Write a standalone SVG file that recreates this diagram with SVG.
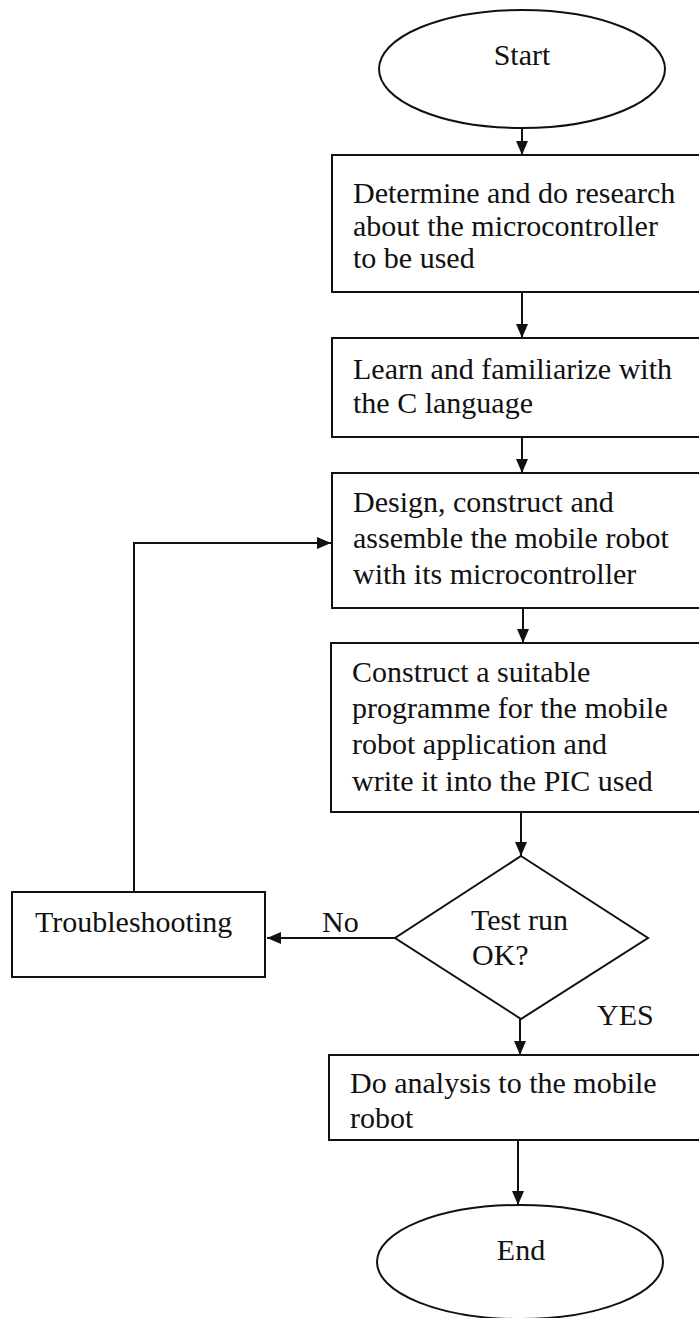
<svg xmlns="http://www.w3.org/2000/svg" width="699" height="1318" viewBox="0 0 699 1318">
<style>
.s{fill:#fff;stroke:#111;stroke-width:2}
.t{font-family:"Liberation Serif","Times New Roman",serif;font-size:30px;fill:#111}
.c{fill:none;stroke:#111;stroke-width:2}
</style>
<defs>
<marker id="ah" markerUnits="userSpaceOnUse" markerWidth="14" markerHeight="12" refX="14" refY="6" orient="auto">
<path d="M0,0 L14,6 L0,12 z" fill="#111"/>
</marker>
</defs>
<rect width="699" height="1318" fill="#fff"/>
<g id="start">
<ellipse class="s" cx="522" cy="69" rx="143" ry="59"/>
<text class="t" x="522" y="65" text-anchor="middle">Start</text>
</g>
<g id="box1">
<rect class="s" x="332" y="155" width="380" height="137"/>
<text class="t" x="353" y="203">Determine and do research</text>
<text class="t" x="353" y="236">about the microcontroller</text>
<text class="t" x="353" y="268">to be used</text>
</g>
<g id="box2">
<rect class="s" x="332" y="338" width="380" height="99"/>
<text class="t" x="353" y="379">Learn and familiarize with</text>
<text class="t" x="353" y="413">the C language</text>
</g>
<g id="box3">
<rect class="s" x="332" y="473" width="380" height="135"/>
<text class="t" x="353" y="512">Design, construct and</text>
<text class="t" x="353" y="548">assemble the mobile robot</text>
<text class="t" x="353" y="584">with its microcontroller</text>
</g>
<g id="box4">
<rect class="s" x="331" y="643" width="381" height="169"/>
<text class="t" x="352" y="682">Construct a suitable</text>
<text class="t" x="352" y="718">programme for the mobile</text>
<text class="t" x="352" y="754">robot application and</text>
<text class="t" x="352" y="791">write it into the PIC used</text>
</g>
<g id="decision">
<polygon class="s" points="521,856 648,938 521,1019 395,938"/>
<text class="t" x="471" y="930">Test run</text>
<text class="t" x="472" y="965">OK?</text>
</g>
<g id="troubleshooting">
<rect class="s" x="12" y="892" width="253" height="85"/>
<text class="t" x="35" y="932">Troubleshooting</text>
</g>
<g id="box5">
<rect class="s" x="329" y="1055" width="383" height="85"/>
<text class="t" x="350" y="1093">Do analysis to the mobile</text>
<text class="t" x="350" y="1128">robot</text>
</g>
<g id="end">
<ellipse class="s" cx="520" cy="1262" rx="143" ry="57"/>
<text class="t" x="521" y="1260" text-anchor="middle">End</text>
</g>
<g id="connectors">
<line class="c" x1="522" y1="128" x2="522" y2="155" marker-end="url(#ah)"/>
<line class="c" x1="522" y1="292" x2="522" y2="338" marker-end="url(#ah)"/>
<line class="c" x1="522" y1="437" x2="522" y2="473" marker-end="url(#ah)"/>
<line class="c" x1="523" y1="608" x2="523" y2="643" marker-end="url(#ah)"/>
<line class="c" x1="521" y1="812" x2="521" y2="856" marker-end="url(#ah)"/>
<line class="c" x1="520" y1="1019" x2="520" y2="1055" marker-end="url(#ah)"/>
<line class="c" x1="518" y1="1140" x2="518" y2="1205" marker-end="url(#ah)"/>
<line class="c" x1="395" y1="938" x2="267" y2="938" marker-end="url(#ah)"/>
<polyline class="c" points="134,892 134,543 331,543" marker-end="url(#ah)"/>
<text class="t" x="322" y="932">No</text>
<text class="t" x="597" y="1025">YES</text>
</g>
</svg>
